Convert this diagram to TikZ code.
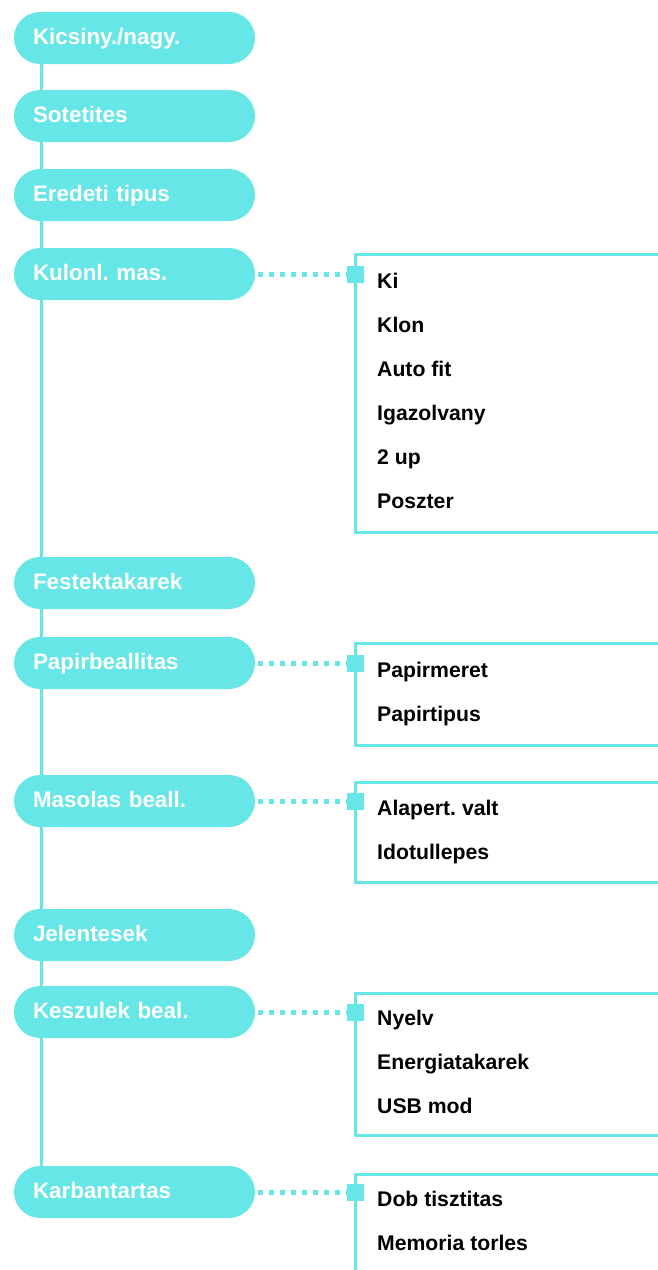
\documentclass[tikz,border=0pt]{standalone}
\usepackage{fontspec}
\setmainfont{Liberation Sans}
\usetikzlibrary{backgrounds}
\definecolor{menuCyan}{RGB}{102,230,230}
\definecolor{menuText}{RGB}{0,0,0}

\begin{document}
\frenchspacing
\begin{tikzpicture}[x=1pt,y=-1pt,
      topitem/.style={fill=menuCyan, rounded corners=26pt, minimum height=52pt,
        text width=203pt, inner xsep=19pt, inner ysep=0pt, align=left,
        text height=15.8pt, text depth=3pt,
        font=\fontsize{22.4}{26}\selectfont\bfseries, text=white},
      subitem/.style={anchor=base west, inner sep=0pt,
        font=\fontsize{21.2}{25}\selectfont\bfseries, text=menuText},
      marker/.style={fill=menuCyan, minimum size=17pt, inner sep=0pt},
      frame/.style={draw=menuCyan, line width=3pt},
      trunk/.style={draw=menuCyan, line width=3.5pt},
      link/.style={draw=menuCyan, line width=5pt,
        dash pattern=on 4.5pt off 6.5pt, shorten <=3pt}]
      \useasboundingbox (0,0) rectangle (658,1270);
      \clip (0,0) rectangle (658,1270);
      \coordinate (trunkx) at (41.5,0);

      % main menu
      \foreach \name/\cy/\label in {kicsiny/38/{Kicsiny./nagy.},
          sotetites/116/Sotetites, eredeti/195/Eredeti tipus,
          kulonl/274/Kulonl. mas., festek/583/Festektakarek,
          papir/663/Papirbeallitas, masolas/801/Masolas beall.,
          jelent/935/Jelentesek, keszulek/1012/Keszulek beal.,
          karban/1192/Karbantartas}{
        \node[topitem] (\name) at (134.5,\cy) {\label};}
      \begin{scope}[on background layer]
        \draw[trunk] (kicsiny.center -| trunkx) -- (karban.center -| trunkx);
      \end{scope}

      % Kulonl. mas.
      \draw[frame] (670,254) -- (355.5,254) -- (355.5,532) -- (670,532);
      \node[marker] (kulonlM) at (355.5,274) {};
      \draw[link] (kulonl.east) -- (kulonlM.west);
      \foreach[count=\i from 0] \t in {Ki,Klon,Auto fit,Igazolvany,2 up,Poszter}
        \node[subitem] (kulonl\i) at (377,{288+44*\i}) {\t};

      % Papirbeallitas
      \draw[frame] (670,643) -- (355.5,643) -- (355.5,745) -- (670,745);
      \node[marker] (papirM) at (355.5,663) {};
      \draw[link] (papir.east) -- (papirM.west);
      \foreach[count=\i from 0] \t in {Papirmeret,Papirtipus}
        \node[subitem] (papir\i) at (377,{677+44*\i}) {\t};

      % Masolas beall.
      \draw[frame] (670,782) -- (355.5,782) -- (355.5,882) -- (670,882);
      \node[marker] (masolasM) at (355.5,801) {};
      \draw[link] (masolas.east) -- (masolasM.west);
      \foreach[count=\i from 0] \t in {Alapert. valt,Idotullepes}
        \node[subitem] (masolas\i) at (377,{815+44*\i}) {\t};

      % Keszulek beal.
      \draw[frame] (670,993) -- (355.5,993) -- (355.5,1135) -- (670,1135);
      \node[marker] (keszulekM) at (355.5,1012) {};
      \draw[link] (keszulek.east) -- (keszulekM.west);
      \foreach[count=\i from 0] \t in {Nyelv,Energiatakarek,USB mod}
        \node[subitem] (keszulek\i) at (377,{1025+44*\i}) {\t};

      % Karbantartas
      \draw[frame] (670,1174) -- (355.5,1174) -- (355.5,1285);
      \node[marker] (karbanM) at (355.5,1192) {};
      \draw[link] (karban.east) -- (karbanM.west);
      \foreach[count=\i from 0] \t in {Dob tisztitas,Memoria torles}
        \node[subitem] (karban\i) at (377,{1206+44*\i}) {\t};
    \end{tikzpicture}
\end{document}
